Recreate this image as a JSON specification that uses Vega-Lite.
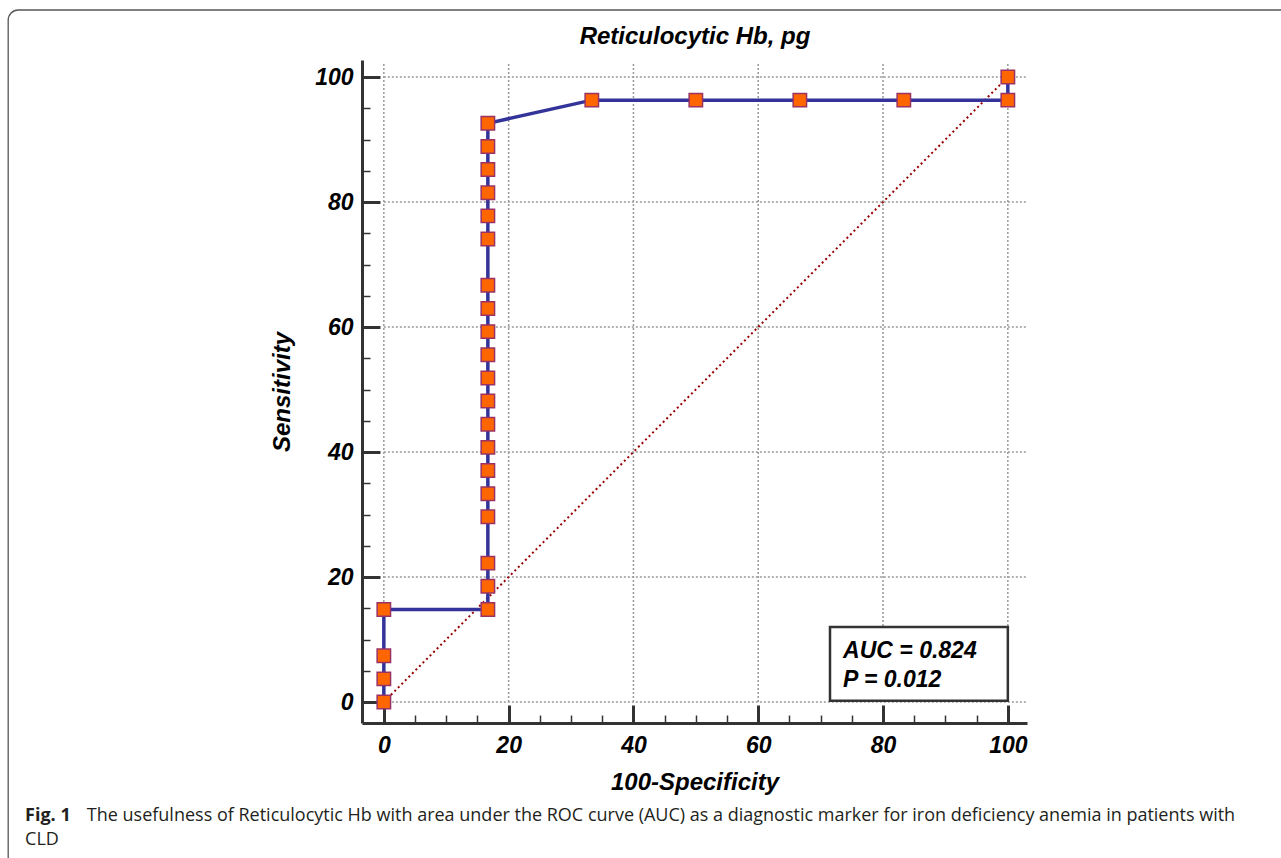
{
  "$schema": "https://vega.github.io/schema/vega-lite/v6.json",
  "width": 665,
  "height": 663,
  "autosize": {"type": "none"},
  "padding": {"left": 362, "top": 60, "right": 254, "bottom": 135},
  "background": "white",
  "config": {
    "view": {"stroke": null},
    "axis": {
      "labelFont": "Liberation Sans",
      "labelFontWeight": "bold",
      "labelFontStyle": "italic",
      "labelFontSize": 23,
      "labelColor": "#000000",
      "titleFont": "Liberation Sans",
      "titleFontWeight": "bold",
      "titleFontStyle": "italic",
      "titleFontSize": 24,
      "titleColor": "#000000",
      "domainColor": "#333333",
      "domainWidth": 3,
      "tickColor": "#333333",
      "grid": false
    }
  },
  "datasets": {
    "roc": [
      {"step": 1, "fpr": 0, "tpr": 0},
      {"step": 2, "fpr": 0, "tpr": 3.7},
      {"step": 3, "fpr": 0, "tpr": 7.41},
      {"step": 4, "fpr": 0, "tpr": 14.81},
      {"step": 5, "fpr": 16.67, "tpr": 14.81},
      {"step": 6, "fpr": 16.67, "tpr": 18.52},
      {"step": 7, "fpr": 16.67, "tpr": 22.22},
      {"step": 8, "fpr": 16.67, "tpr": 29.63},
      {"step": 9, "fpr": 16.67, "tpr": 33.33},
      {"step": 10, "fpr": 16.67, "tpr": 37.04},
      {"step": 11, "fpr": 16.67, "tpr": 40.74},
      {"step": 12, "fpr": 16.67, "tpr": 44.44},
      {"step": 13, "fpr": 16.67, "tpr": 48.15},
      {"step": 14, "fpr": 16.67, "tpr": 51.85},
      {"step": 15, "fpr": 16.67, "tpr": 55.56},
      {"step": 16, "fpr": 16.67, "tpr": 59.26},
      {"step": 17, "fpr": 16.67, "tpr": 62.96},
      {"step": 18, "fpr": 16.67, "tpr": 66.67},
      {"step": 19, "fpr": 16.67, "tpr": 74.07},
      {"step": 20, "fpr": 16.67, "tpr": 77.78},
      {"step": 21, "fpr": 16.67, "tpr": 81.48},
      {"step": 22, "fpr": 16.67, "tpr": 85.19},
      {"step": 23, "fpr": 16.67, "tpr": 88.89},
      {"step": 24, "fpr": 16.67, "tpr": 92.59},
      {"step": 25, "fpr": 33.33, "tpr": 96.3},
      {"step": 26, "fpr": 50, "tpr": 96.3},
      {"step": 27, "fpr": 66.67, "tpr": 96.3},
      {"step": 28, "fpr": 83.33, "tpr": 96.3},
      {"step": 29, "fpr": 100, "tpr": 96.3},
      {"step": 30, "fpr": 100, "tpr": 100}
    ],
    "grid": [{"v": 0}, {"v": 20}, {"v": 40}, {"v": 60}, {"v": 80}, {"v": 100}]
  },
  "resolve": {"axis": {"x": "independent", "y": "independent"}},
  "layer": [
    {
      "data": {"values": [{}]},
      "mark": {"type": "rect", "fill": null, "stroke": "#555555", "strokeWidth": 1.3, "cornerRadius": 10},
      "encoding": {
        "x": {"datum": -60.2, "type": "quantitative", "scale": {"domain": [-3.5, 103.07], "nice": false, "zero": false}, "axis": null},
        "x2": {"datum": 200},
        "y": {"datum": 110.72, "type": "quantitative", "scale": {"domain": [-3.36, 102.72], "nice": false, "zero": false}, "axis": null},
        "y2": {"datum": -40}
      }
    },
    {
      "data": {"name": "grid"},
      "mark": {"type": "rule", "color": "#999999", "strokeWidth": 1.5, "strokeDash": [2, 2]},
      "encoding": {
        "x": {"field": "v", "type": "quantitative", "axis": {
          "orient": "bottom", "values": [0, 20, 40, 60, 80, 100], "ticks": false, "domain": true,
          "labelPadding": 11, "labelBaseline": "top", "title": "100-Specificity", "titlePadding": 13
        }},
        "y": {"datum": 0, "type": "quantitative", "axis": null},
        "y2": {"datum": 102.4}
      }
    },
    {
      "data": {"name": "grid"},
      "mark": {"type": "rule", "color": "#999999", "strokeWidth": 1.5, "strokeDash": [2, 2]},
      "encoding": {
        "y": {"field": "v", "type": "quantitative", "axis": {
          "orient": "left", "values": [0, 20, 40, 60, 80, 100], "ticks": false, "domain": true,
          "labelPadding": 9, "title": "Sensitivity", "titlePadding": 20
        }},
        "x": {"datum": 0, "type": "quantitative", "axis": {
          "orient": "top", "labels": false, "ticks": false, "domain": false, "title": "Reticulocytic Hb, pg", "titlePadding": 12
        }},
        "x2": {"datum": 103}
      }
    },
    {
      "data": {"values": [{}]},
      "mark": {"type": "rule", "color": "#990000", "strokeWidth": 2, "strokeDash": [2, 3]},
      "encoding": {
        "x": {"datum": 0, "type": "quantitative", "axis": null},
        "y": {"datum": 0, "type": "quantitative", "axis": null},
        "x2": {"datum": 100},
        "y2": {"datum": 100}
      }
    },
    {
      "data": {"name": "roc"},
      "mark": {"type": "line", "color": "#333399", "strokeWidth": 3.5},
      "encoding": {
        "x": {"field": "fpr", "type": "quantitative", "axis": {
          "orient": "bottom", "values": [0, 20, 40, 60, 80, 100], "labels": false, "domain": false,
          "tickSize": -18, "tickWidth": 3, "title": null
        }},
        "y": {"field": "tpr", "type": "quantitative", "axis": {
          "orient": "left", "values": [0, 20, 40, 60, 80, 100], "labels": false, "domain": false,
          "tickSize": -18, "tickWidth": 3, "title": null
        }},
        "order": {"field": "step", "type": "quantitative"}
      }
    },
    {
      "data": {"name": "roc"},
      "mark": {"type": "point", "shape": "square", "filled": true, "fill": "#ff6600", "stroke": "#993366", "strokeWidth": 1.5, "size": 180, "opacity": 1},
      "encoding": {
        "x": {"field": "fpr", "type": "quantitative", "axis": {
          "orient": "bottom", "values": [5, 10, 15, 25, 30, 35, 45, 50, 55, 65, 70, 75, 85, 90, 95], "labels": false, "domain": false,
          "tickSize": -8, "tickWidth": 1.5, "title": null
        }},
        "y": {"field": "tpr", "type": "quantitative", "axis": {
          "orient": "left", "values": [5, 10, 15, 25, 30, 35, 45, 50, 55, 65, 70, 75, 85, 90, 95], "labels": false, "domain": false,
          "tickSize": -8, "tickWidth": 1.5, "title": null
        }}
      }
    },
    {
      "data": {"values": [{}]},
      "mark": {"type": "rect", "fill": "white", "stroke": "#333333", "strokeWidth": 2.5},
      "encoding": {
        "x": {"datum": 71.5, "type": "quantitative", "axis": null},
        "x2": {"datum": 100},
        "y": {"datum": 0.2, "type": "quantitative", "axis": null},
        "y2": {"datum": 12}
      }
    },
    {
      "data": {"values": [{}]},
      "mark": {"type": "text", "text": "AUC = 0.824", "align": "left", "baseline": "alphabetic", "font": "Liberation Sans", "fontWeight": "bold", "fontStyle": "italic", "fontSize": 23, "color": "#000000"},
      "encoding": {
        "x": {"datum": 73.6, "type": "quantitative", "axis": null},
        "y": {"datum": 7.04, "type": "quantitative", "axis": null}
      }
    },
    {
      "data": {"values": [{}]},
      "mark": {"type": "text", "text": "P = 0.012", "align": "left", "baseline": "alphabetic", "font": "Liberation Sans", "fontWeight": "bold", "fontStyle": "italic", "fontSize": 23, "color": "#000000"},
      "encoding": {
        "x": {"datum": 73.6, "type": "quantitative", "axis": null},
        "y": {"datum": 2.4, "type": "quantitative", "axis": null}
      }
    },
    {
      "data": {"values": [{}]},
      "mark": {"type": "text", "text": "Fig. 1", "align": "left", "baseline": "alphabetic", "font": "Open Sans", "fontWeight": "bold", "fontSize": 18, "color": "#231f20"},
      "encoding": {
        "x": {"datum": -57.5, "type": "quantitative", "axis": null},
        "y": {"datum": -19.04, "type": "quantitative", "axis": null}
      }
    },
    {
      "data": {"values": [{}]},
      "mark": {"type": "text", "text": "The usefulness of Reticulocytic Hb with area under the ROC curve (AUC) as a diagnostic marker for iron deficiency anemia in patients with", "align": "left", "baseline": "alphabetic", "font": "Open Sans", "fontSize": 18, "color": "#231f20"},
      "encoding": {
        "x": {"datum": -47.6, "type": "quantitative", "axis": null},
        "y": {"datum": -19.04, "type": "quantitative", "axis": null}
      }
    },
    {
      "data": {"values": [{}]},
      "mark": {"type": "text", "text": "CLD", "align": "left", "baseline": "alphabetic", "font": "Open Sans", "fontSize": 18, "color": "#231f20"},
      "encoding": {
        "x": {"datum": -57.5, "type": "quantitative", "axis": null},
        "y": {"datum": -22.88, "type": "quantitative", "axis": null}
      }
    }
  ]
}
